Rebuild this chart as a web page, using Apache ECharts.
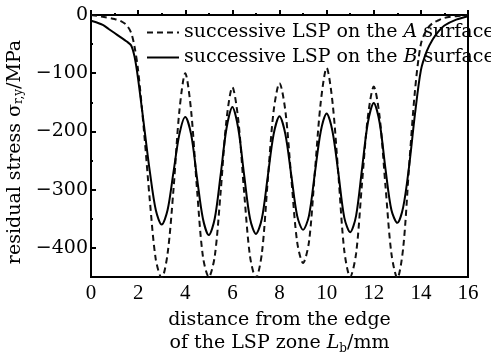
<!DOCTYPE html>
<html>
<head>
<meta charset="utf-8">
<script src="https://cdn.jsdelivr.net/npm/echarts@6/dist/echarts.min.js"></script>
<style>
  html, body { margin: 0; padding: 0; background: #fff; }
  #chart { width: 491px; height: 352px; }
</style>
</head>
<body>
<div id="chart"></div>
<script>
// Residual stress profile across the LSP zone (distance in mm, stress in MPa)
const distanceA = [0, 0.5, 1.0, 1.25, 1.5, 1.7, 1.85, 2.0, 2.25, 2.5, 2.75, 3.0, 3.25, 3.5, 3.75, 4.0, 4.25, 4.5, 4.75, 5.0, 5.25, 5.5, 5.75, 6.0, 6.25, 6.5, 6.75, 7.0, 7.25, 7.5, 7.75, 8.0, 8.25, 8.5, 8.75, 9.0, 9.25, 9.5, 9.75, 10.0, 10.25, 10.5, 10.75, 11.0, 11.25, 11.5, 11.75, 12.0, 12.25, 12.5, 12.75, 13.0, 13.25, 13.5, 13.75, 14.0, 14.25, 14.5, 14.75, 15.0, 15.5, 16.0];
const stressA = [0, -3, -7, -10, -17, -30, -55, -95, -200, -320, -420, -452, -410, -300, -165, -100, -165, -300, -415, -450, -415, -305, -180, -124, -180, -305, -415, -452, -410, -285, -165, -117, -165, -280, -390, -426, -390, -270, -150, -91, -150, -275, -405, -450, -410, -290, -175, -123, -175, -295, -410, -452, -400, -260, -130, -50, -25, -14, -9, -5, -2, 0];

const distanceB = [0, 0.25, 0.5, 0.75, 1.0, 1.25, 1.5, 1.7, 1.85, 2.0, 2.25, 2.5, 2.75, 3.0, 3.25, 3.5, 3.75, 4.0, 4.25, 4.5, 4.75, 5.0, 5.25, 5.5, 5.75, 6.0, 6.25, 6.5, 6.75, 7.0, 7.25, 7.5, 7.75, 8.0, 8.25, 8.5, 8.75, 9.0, 9.25, 9.5, 9.75, 10.0, 10.25, 10.5, 10.75, 11.0, 11.25, 11.5, 11.75, 12.0, 12.25, 12.5, 12.75, 13.0, 13.25, 13.5, 13.75, 14.0, 14.25, 14.5, 14.75, 15.0, 15.5, 16.0];
const stressB = [-10, -13, -17, -24, -31, -38, -45, -52, -72, -110, -190, -270, -335, -360, -335, -270, -205, -175, -205, -280, -350, -378, -350, -275, -195, -158, -195, -275, -350, -376, -350, -278, -205, -174, -205, -275, -345, -369, -345, -272, -200, -169, -200, -272, -348, -373, -345, -265, -185, -151, -185, -265, -335, -357, -330, -260, -170, -95, -62, -42, -28, -18, -8, -2];

const seriesNames = ['A', 'B'];
const xTicks = [0, 2, 4, 6, 8, 10, 12, 14, 16];
const yMajorTicks = [0, -100, -200, -300, -400];
const yMinorTicks = [-50, -150, -250, -350, -450];

const pairs = (xs, ys) => xs.map((x, i) => [x, ys[i]]);
const serif = 'DejaVu Serif';

const chart = echarts.init(document.getElementById('chart'), null, { renderer: 'canvas' });

chart.setOption({
  animation: false,
  backgroundColor: '#fff',
  grid: {
    left: 91, right: 23, top: 15, bottom: 75,
    outerBoundsMode: 'none', containLabel: false,
    show: true, borderColor: '#000', borderWidth: 2, backgroundColor: 'transparent'
  },
  legend: {
    orient: 'vertical',
    left: 141, top: 18,
    itemWidth: 32, itemHeight: 14, itemGap: 6,
    data: seriesNames,
    itemStyle: { opacity: 0 },
    formatter: n => 'successive LSP on the {it|' + n + '} surface',
    textStyle: {
      fontFamily: serif, fontSize: 19, color: '#000',
      rich: { it: { fontFamily: serif, fontSize: 19, fontStyle: 'italic', color: '#000' } }
    }
  },
  xAxis: {
    type: 'value', min: xTicks[0], max: xTicks[xTicks.length - 1], interval: 2,
    axisLine: { show: true, lineStyle: { color: '#000', width: 2 } },
    axisTick: { show: true, inside: true, length: 5, lineStyle: { color: '#000', width: 2 } },
    minorTick: { show: true, splitNumber: 2, length: 2, lineStyle: { color: '#000', width: 2 } },
    splitLine: { show: false },
    axisLabel: { margin: 6, color: '#000', fontFamily: 'Liberation Serif', fontSize: 21 },
    name: 'distance from the edge\nof the LSP zone {it|L}{sub|b}/mm',
    nameLocation: 'middle', nameGap: 30,
    nameTextStyle: {
      fontFamily: serif, fontSize: 19, color: '#000', lineHeight: 23,
      rich: {
        it: { fontFamily: serif, fontSize: 19, fontStyle: 'italic', color: '#000', lineHeight: 23 },
        sub: { fontFamily: serif, fontSize: 12, color: '#000', verticalAlign: 'bottom', lineHeight: 19 }
      }
    }
  },
  yAxis: [{
    type: 'value', min: -450, max: 0,
    axisLine: { show: true, lineStyle: { color: '#000', width: 2 } },
    axisTick: { show: true, inside: true, length: 5, customValues: yMajorTicks, lineStyle: { color: '#000', width: 2 } },
    splitLine: { show: false },
    axisLabel: {
      customValues: yMajorTicks, margin: 3, color: '#000', fontFamily: serif, fontSize: 19,
      formatter: v => String(v).replace('-', '\u2212')
    },
    name: 'residual stress \u03c3{sub|r,y}/MPa',
    nameLocation: 'middle', nameGap: 60,
    nameTextStyle: {
      fontFamily: serif, fontSize: 19, color: '#000', padding: [0, 12, 0, 0],
      rich: { sub: { fontFamily: serif, fontSize: 12, color: '#000', verticalAlign: 'bottom', lineHeight: 19 } }
    }
  }, {
    type: 'value', min: -450, max: 0, position: 'left',
    axisLine: { show: false },
    axisTick: { show: true, inside: true, length: 2, customValues: yMinorTicks, lineStyle: { color: '#000', width: 2 } },
    axisLabel: { show: false },
    splitLine: { show: false }
  }],
  series: [{
    name: seriesNames[0], type: 'line', yAxisIndex: 0,
    data: pairs(distanceA, stressA),
    symbol: 'none', smooth: 0.3,
    lineStyle: { color: '#111', width: 2, type: [6, 4] },
    itemStyle: { color: '#111' }
  }, {
    name: seriesNames[1], type: 'line', yAxisIndex: 0,
    data: pairs(distanceB, stressB),
    symbol: 'none', smooth: 0.3,
    lineStyle: { color: '#000', width: 2 },
    itemStyle: { color: '#000' }
  }]
});
</script>
</body>
</html>
